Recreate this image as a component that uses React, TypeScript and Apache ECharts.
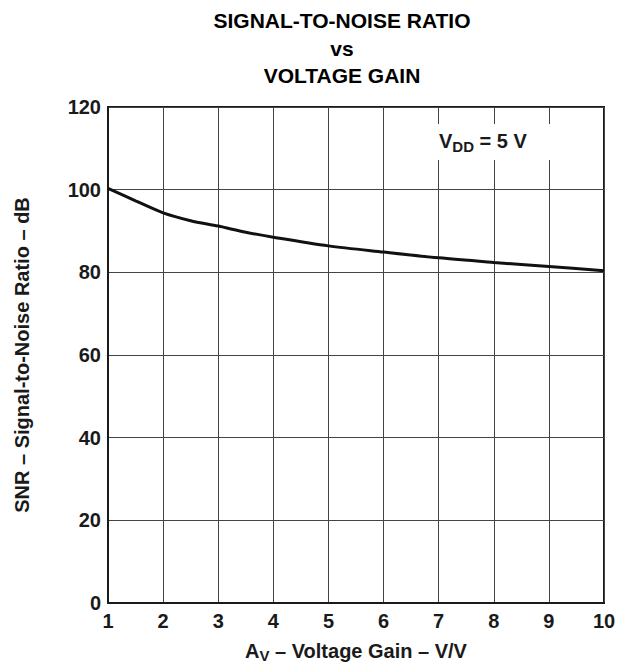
import React, { useEffect, useRef } from "react";
import * as echarts from "echarts";

const gainValues = [1, 1.5, 2, 2.5, 3, 3.5, 4, 5, 6, 7, 8, 9, 10];
const snrValues = [100.3, 97.3, 94.4, 92.5, 91.2, 89.7, 88.5, 86.4, 84.9, 83.5, 82.4, 81.4, 80.4];
const titleLines = ["SIGNAL-TO-NOISE RATIO", "vs", "VOLTAGE GAIN"];
const xTicks = [1, 2, 3, 4, 5, 6, 7, 8, 9, 10];
const yTicks = [0, 20, 40, 60, 80, 100, 120];

const FONT = "'Liberation Sans', Arial, Helvetica, sans-serif";

export default function App() {
  const ref = useRef<HTMLDivElement>(null);
  useEffect(() => {
    if (!ref.current) return;
    const chart = echarts.init(ref.current, undefined, { renderer: "svg" });
    const left = 108, top = 107, right = 25, bottom = 66;
    chart.setOption({
      animation: false,
      backgroundColor: "#ffffff",
      textStyle: { fontFamily: FONT },
      grid: {
        left, top, right, bottom,
        show: true,
        borderColor: "#1a1a1a",
        borderWidth: 2,
        backgroundColor: "transparent",
      },
      xAxis: {
        type: "value",
        min: xTicks[0],
        max: xTicks[xTicks.length - 1],
        interval: 1,
        axisLine: { show: true, lineStyle: { color: "#1a1a1a", width: 2 } },
        axisTick: { show: false },
        splitLine: { show: true, lineStyle: { color: "#444", width: 1 } },
        axisLabel: {
          margin: 8,
          fontSize: 20,
          fontWeight: "bold",
          color: "#1a1a1a",
          fontFamily: FONT,
        },
        name: "{a|A}{s|V}{a| – Voltage Gain – V/V}",
        nameLocation: "middle",
        nameGap: 36,
        nameTextStyle: {
          rich: {
            a: { fontSize: 20, fontWeight: "bold", color: "#1a1a1a", fontFamily: FONT },
            s: { fontSize: 15, fontWeight: "bold", color: "#1a1a1a", fontFamily: FONT, verticalAlign: "bottom", padding: [9, 0, 0, 0] },
          },
        },
      },
      yAxis: {
        type: "value",
        min: yTicks[0],
        max: yTicks[yTicks.length - 1],
        interval: 20,
        axisLine: { show: true, lineStyle: { color: "#1a1a1a", width: 2 } },
        axisTick: { show: false },
        splitLine: { show: true, lineStyle: { color: "#444", width: 1 } },
        axisLabel: {
          margin: 7,
          fontSize: 20,
          fontWeight: "bold",
          color: "#1a1a1a",
          fontFamily: FONT,
        },
        name: "SNR – Signal-to-Noise Ratio – dB",
        nameLocation: "middle",
        nameGap: 76,
        nameTextStyle: { fontSize: 20, fontWeight: "bold", color: "#1a1a1a", fontFamily: FONT },
      },
      graphic: [
        ...titleLines.map((t, i) => ({
          type: "text",
          x: 342,
          y: 20.5 + i * 27.5,
          style: {
            text: t,
            fontSize: 21,
            fontWeight: "bold",
            fontFamily: FONT,
            fill: "#000",
            textAlign: "center",
            textVerticalAlign: "middle",
          },
        })),
        {
          type: "rect",
          z: 50,
          shape: { x: 433, y: 124, width: 119, height: 36 },
          style: { fill: "#ffffff" },
        },
        {
          type: "text",
          z: 51,
          x: 439,
          y: 141,
          style: {
            text: "{a|V}{s|DD}{a| = 5 V}",
            textVerticalAlign: "middle",
            rich: {
              a: { fontSize: 20, fontWeight: "bold", fontFamily: FONT, fill: "#1a1a1a", color: "#1a1a1a" },
              s: { fontSize: 15, fontWeight: "bold", fontFamily: FONT, fill: "#1a1a1a", color: "#1a1a1a", padding: [10, 0, 0, 0] },
            },
          },
        },
      ],
      series: [
        {
          type: "line",
          data: gainValues.map((g, i) => [g, snrValues[i]]),
          showSymbol: false,
          smooth: 0.3,
          lineStyle: { color: "#111", width: 3 },
          z: 3,
        },
      ],
    });
    return () => chart.dispose();
  }, []);
  return (
    <div
      ref={ref}
      style={{ position: "fixed", left: 0, top: 0, width: 629, height: 669 }}
    />
  );
}
